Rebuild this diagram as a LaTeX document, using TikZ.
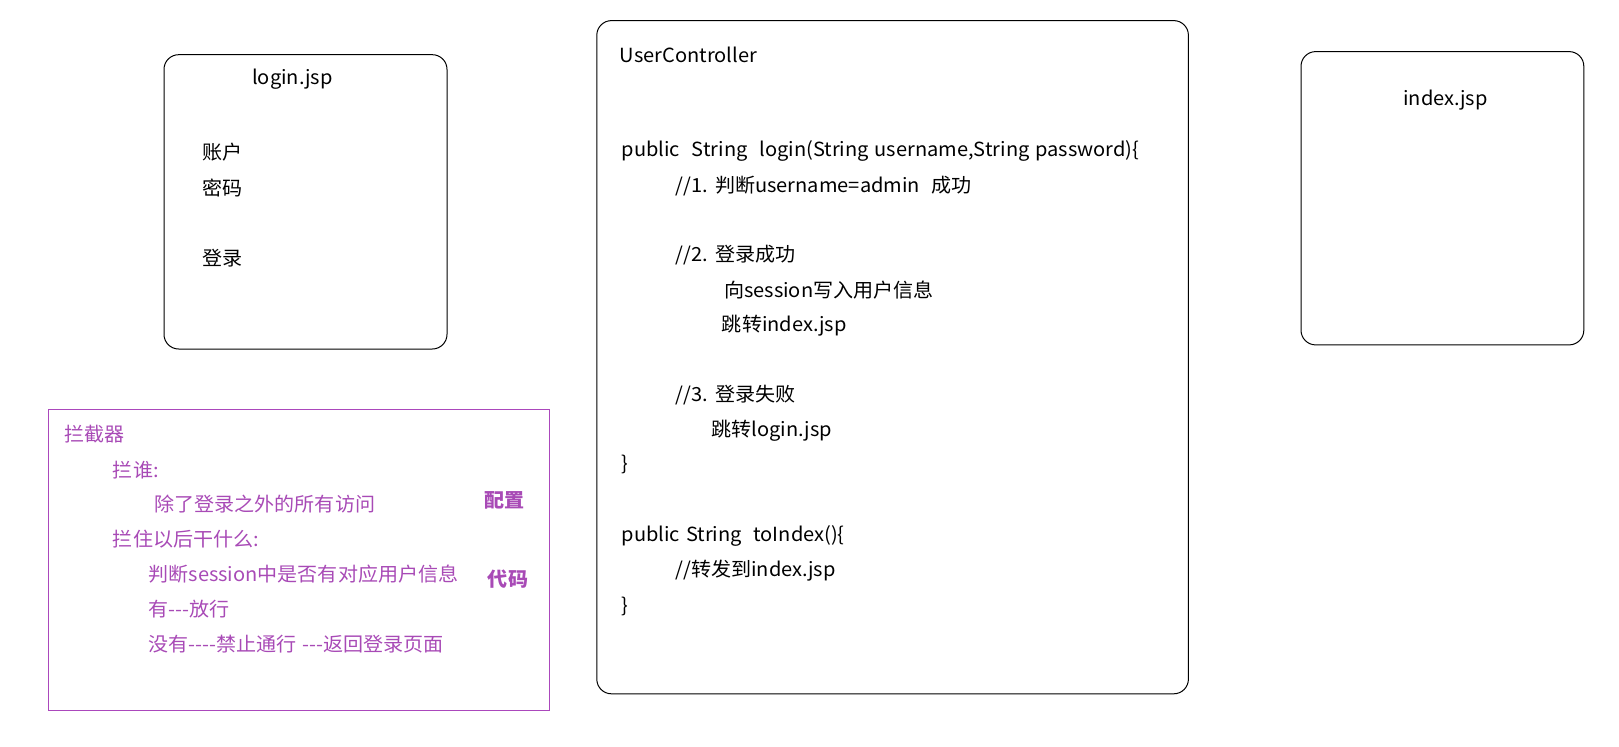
\documentclass[tikz,border=0pt]{standalone}
\usepackage{fontspec}
\setmainfont{Noto Sans CJK SC}[Ligatures=TeXOff, FakeStretch=1.03, WordSpace=1.3]
\usepackage{xcolor}
\definecolor{interPurple}{RGB}{171,71,188}
\definecolor{interText}{RGB}{168,74,182}

\tikzset{
  card/.style={draw=black, line width=0.75pt, rounded corners=11pt},
  txt/.style={anchor=west, inner sep=0.75pt, font=\fontsize{14.6pt}{17pt}\selectfont},
  ptxt/.style={txt, text=interText},
}

\begin{document}
\begin{tikzpicture}[x=0.75pt,y=0.75pt,yscale=-1,xscale=1]
        \useasboundingbox (0,0) rectangle (1619,746);
        % boxes
        \draw [card] (164,54.7) rectangle (447,349);
        \draw [card] (596.8,20.6) rectangle (1188.4,693.8);
        \draw [card] (1301,51.6) rectangle (1583.8,344.9);
        \draw [draw=interPurple, line width=0.75pt] (48.5,409.9) rectangle (549.3,710.4);

        % login.jsp
        \node [txt] (loginTitle) at (250.9,79.5) {login.jsp};
        \node [txt] (account) at (201.3,151.8) {账户};
        \node [txt] (password) at (201.3,188) {密码};
        \node [txt] (loginBtn) at (201.3,258) {登录};

        % UserController
        \node [txt] (ctrlTitle) at (618.5,54.7) {UserController};
        \node [txt] (loginSig) at (620.5,150.7) {public\ \ String\ \ login(String username,String password)\{};
        \node [txt] (stepOne) at (674.2,185.8) {//1. 判断username=admin\ \ 成功};
        \node [txt] (stepTwo) at (674.2,255) {//2. 登录成功};
        \node [txt] (writeSession) at (722.8,290.1) {向session写入用户信息};
        \node [txt] (toIndexJsp) at (720.7,325.2) {跳转index.jsp};
        \node [txt] (stepThree) at (674.2,395.4) {//3. 登录失败};
        \node [txt] (toLoginJsp) at (710.4,430.5) {跳转login.jsp};
        \node [txt] (closeOne) at (620.5,464.6) {\}};
        \node [txt] (indexSig) at (620.5,535.9) {public String\ \ toIndex()\{};
        \node [txt] (forward) at (674.2,571) {//转发到index.jsp};
        \node [txt] (closeTwo) at (620.5,606) {\}};

        % index.jsp
        \node [txt] (indexTitle) at (1402,100) {index.jsp};

        % interceptor
        \node [ptxt] (interTitle) at (63.3,434.3) {拦截器};
        \node [ptxt] (whom) at (111.7,470) {拦谁:};
        \node [ptxt] (allButLogin) at (153.3,504) {除了登录之外的所有访问};
        \node [ptxt] (thenWhat) at (111.7,539.3) {拦住以后干什么:};
        \node [ptxt] (checkSession) at (147.3,574) {判断session中是否有对应用户信息};
        \node [ptxt] (hasUser) at (147.3,609) {有---放行};
        \node [ptxt] (noUser) at (147.3,644) {没有----禁止通行 ---返回登录页面};
        \node [ptxt, font=\fontsize{14.6pt}{17pt}\selectfont\bfseries] (config) at (483.3,500) {配置};
        \node [ptxt, font=\fontsize{14.6pt}{17pt}\selectfont\bfseries] (code) at (486.7,579.3) {代码};
\end{tikzpicture}
\end{document}
